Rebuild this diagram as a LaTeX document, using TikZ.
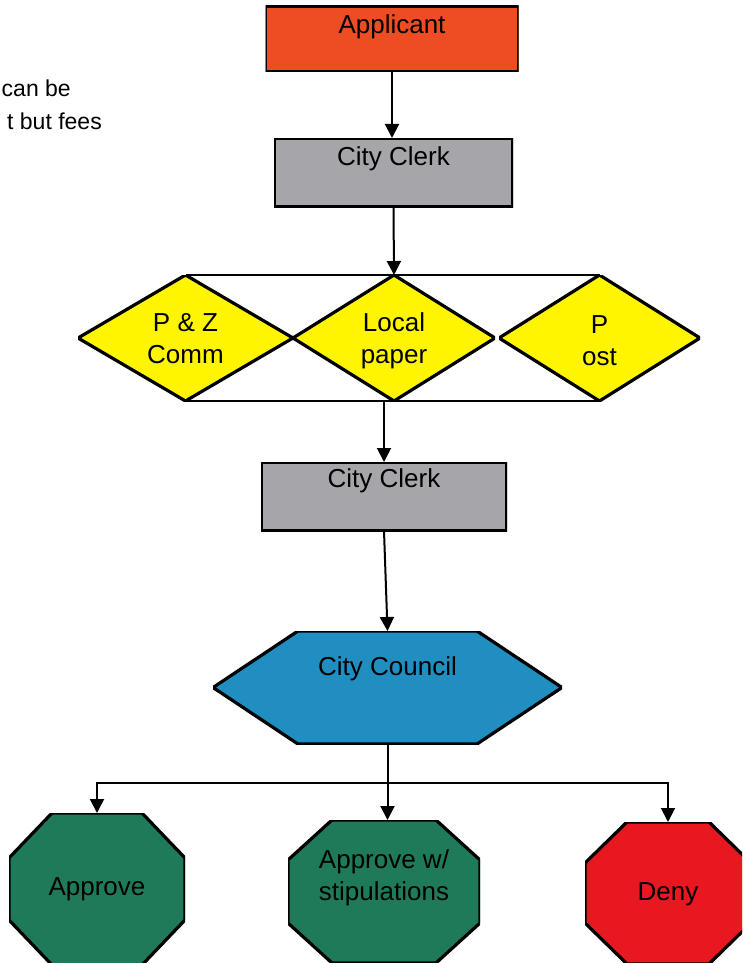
\documentclass[tikz,border=0pt]{standalone}
\usepackage{fontspec}
\setmainfont{Liberation Sans}
\usetikzlibrary{arrows.meta}
\definecolor{appc}{RGB}{238,77,35}
\definecolor{grayc}{RGB}{166,165,170}
\definecolor{yelc}{RGB}{255,245,0}
\definecolor{bluec}{RGB}{32,142,192}
\definecolor{greenc}{RGB}{30,122,88}
\definecolor{redc}{RGB}{232,24,32}
\tikzset{
  base/.style={inner sep=0pt, outer sep=0pt, align=center, text=black,
    font=\fontsize{26}{32}\selectfont},
  poly/.style n args={3}{base, path picture={
    \path[fill=#1, draw=black, line width=3.2pt]
      ([xshift=#2]path picture bounding box.north west)
      -- ([xshift=-#2]path picture bounding box.north east)
      -- ([yshift=-#3]path picture bounding box.north east)
      -- ([yshift=#3]path picture bounding box.south east)
      -- ([xshift=-#2]path picture bounding box.south east)
      -- ([xshift=#2]path picture bounding box.south west)
      -- ([yshift=#3]path picture bounding box.south west)
      -- ([yshift=-#3]path picture bounding box.north west) -- cycle;}},
  tb/.style 2 args={text height=#1, text depth=#2},
  conn/.style={draw=black, line width=2pt},
  arr/.style={conn, -{Triangle[width=14pt,length=14pt]}},
  note/.style={anchor=base east, inner sep=0pt, font=\fontsize{23}{28}\selectfont}
}
\begin{document}
\begin{tikzpicture}[x=1pt,y=-1pt]
\useasboundingbox (0,0) rectangle (742,963);
\clip (0,0) rectangle (742,963);

\node[note] (note1) at (71,97) {can be};
\node[note] (note2) at (102,130) {t but fees};

\node[poly={appc}{0pt}{0pt}, minimum width=253pt, minimum height=66pt, tb={8pt}{18pt}] (app) at (392,39) {Applicant};
\node[poly={grayc}{0pt}{0pt}, minimum width=239pt, minimum height=69pt, tb={6pt}{20pt}] (clerk1) at (393.5,172.5) {City Clerk};

\node[poly={yelc}{107.5pt}{63pt}, minimum width=215pt, minimum height=126pt, tb={50pt}{0pt}] (d1) at (185.5,338) {P \& Z\\Comm};
\node[poly={yelc}{101pt}{63pt}, minimum width=202pt, minimum height=126pt, tb={50pt}{0pt}] (d2) at (394,338) {Local\\paper};
\node[poly={yelc}{100.5pt}{63pt}, minimum width=201pt, minimum height=126pt, tb={54pt}{0pt}] (d3) at (599.5,338) {P\\ost};

\node[poly={grayc}{0pt}{0pt}, minimum width=246pt, minimum height=69pt, tb={5pt}{24pt}] (clerk2) at (384,496.5) {City Clerk};

\node[poly={bluec}{85pt}{56.5pt}, minimum width=349pt, minimum height=113pt, tb={5pt}{30pt}] (council) at (387.5,687.5) {City Council};

\node[poly={greenc}{43pt}{45pt}, minimum width=176pt, minimum height=152pt, tb={20pt}{8pt}] (oct1) at (97,889) {Approve};
\node[poly={greenc}{44pt}{40pt}, minimum width=192pt, minimum height=143pt, tb={17pt}{0pt}] (oct2) at (384,891.5) {Approve w/\\stipulations};
\node[poly={redc}{42pt}{41pt}, minimum width=166pt, minimum height=142pt, tb={20pt}{6pt}] (oct3) at (668,893) {Deny};

\draw[arr] (app.south) -- (app.south |- clerk1.north);
\draw[arr] (clerk1.south) -- (d2.north);
\draw[conn] (d1.north) -- (d3.north);
\draw[conn] (d1.south) -- (d3.south);
\draw[arr] (clerk2.north |- d2.south) -- (clerk2.north);
\draw[arr] (clerk2.south) -- (council.north);

\coordinate (br) at ([yshift=-39pt]council.south);
\draw[conn] (council.south) -- (br);
\draw[arr] (br) -- (br |- oct2.north);
\draw[arr] (br) -| (oct1.north);
\draw[arr] (br) -| (oct3.north);
\end{tikzpicture}
\end{document}
